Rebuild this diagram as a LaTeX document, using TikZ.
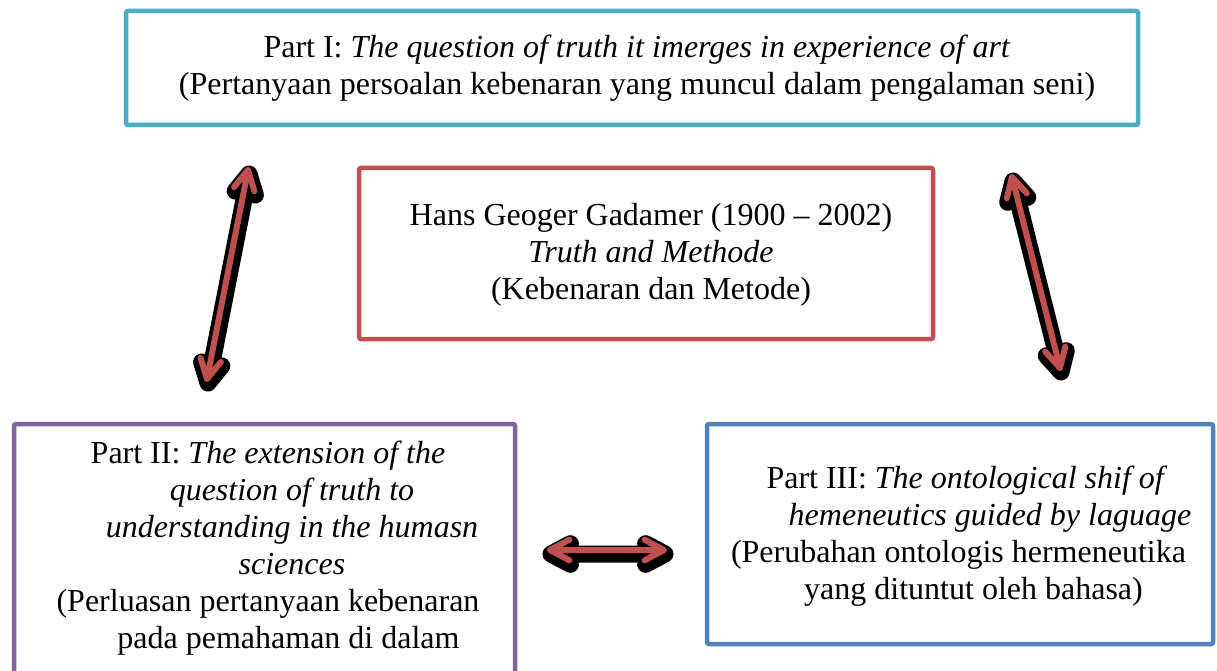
\documentclass[tikz,border=0pt]{standalone}
\usepackage{fontspec}
\setmainfont{Liberation Serif}
\usetikzlibrary{calc}
\definecolor{cI}{HTML}{4BACC6}
\definecolor{cC}{HTML}{C0504D}
\definecolor{cII}{HTML}{8064A2}
\definecolor{cIII}{HTML}{4F81BD}
\newcommand{\dblarrow}[3]{%
  \draw[#1] (#2) -- (#3)
    ($(#2)!22pt!28:(#3)$) -- (#2) -- ($(#2)!22pt!-28:(#3)$)
    ($(#3)!22pt!28:(#2)$) -- (#3) -- ($(#3)!22pt!-28:(#2)$);}
\begin{document}
\begin{tikzpicture}[x=1pt,y=-1pt,
  box/.style={draw, line width=4.5pt, rounded corners=2pt, inner sep=0pt, fill=white},
  txt/.style={inner sep=0pt, align=center, font=\fontsize{32}{37}\selectfont},
  arrshadow/.style={line cap=round, line join=round, line width=17pt, black, transform canvas={xshift=1pt,yshift=-4pt}},
  arrmain/.style={line cap=round, line join=round, line width=6pt, cC},
]
\useasboundingbox (0,0) rectangle (1217,671);
\fill[white] (0,0) rectangle (1217,671);

% boxes
\node[box, draw=cI, minimum width=1012pt, minimum height=114pt] (b1) at (632,68) {};
\node[box, draw=cC, minimum width=574pt, minimum height=171pt] (bc) at (646,253.5) {};
\node[box, draw=cII, minimum width=501pt, minimum height=250pt] (b2) at (264.5,549) {};
\node[box, draw=cIII, minimum width=506pt, minimum height=220pt] (b3) at (960,534) {};

% texts
\node[txt] (t1) at (637,68.5) {Part I: \textit{The question of truth it imerges in experience of art}\\(Pertanyaan persoalan kebenaran yang muncul dalam pengalaman seni)};
\node[txt] (tc) at (651,255) {Hans Geoger Gadamer (1900 – 2002)\\\textit{Truth and Methode}\\(Kebenaran dan Metode)};
\node[txt] (t2) at (268,548.5) {Part II: \textit{The extension of the}\\\hspace*{48pt}\textit{question of truth to}\\\hspace*{48pt}\textit{understanding in the humasn}\\\hspace*{48pt}\textit{sciences}\\(Perluasan pertanyaan kebenaran\\\hspace*{41pt}pada pemahaman di dalam};
\node[txt] (t3) at (958.5,536.5) {\hspace*{17pt}Part III: \textit{The ontological shif of}\\\hspace*{63pt}\textit{hemeneutics guided by laguage}\\(Perubahan ontologis hermeneutika\\\hspace*{30pt}yang dituntut oleh bahasa)};

% arrow ends
\coordinate (l1) at (207,379);
\coordinate (l2) at (248,170);
\coordinate (r1) at (1012,177);
\coordinate (r2) at (1060,368);
\coordinate (h1) at (550,550);
\coordinate (h2) at (664,550);

\dblarrow{arrshadow}{l1}{l2}
\dblarrow{arrmain}{l1}{l2}
\dblarrow{arrshadow}{r1}{r2}
\dblarrow{arrmain}{r1}{r2}
\dblarrow{arrshadow}{h1}{h2}
\dblarrow{arrmain}{h1}{h2}
\end{tikzpicture}
\end{document}
